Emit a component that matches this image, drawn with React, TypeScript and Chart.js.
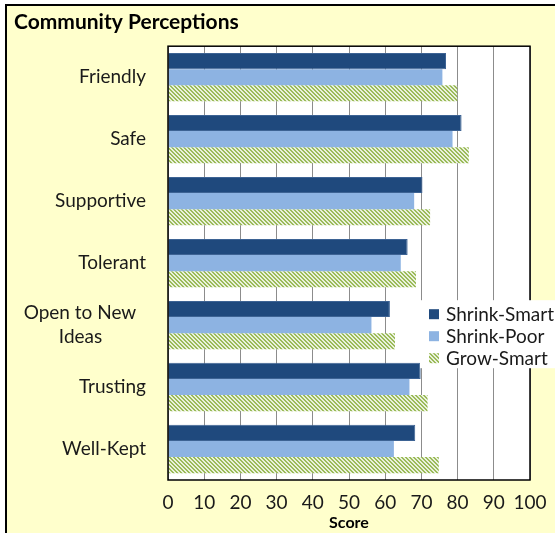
import React, { useEffect, useRef } from "react";
import { Chart, registerables } from "chart.js";
Chart.register(...registerables);

const categories = ["Friendly", "Safe", "Supportive", "Tolerant", "Open to New Ideas", "Trusting", "Well-Kept"];
const seriesNames = ["Shrink-Smart", "Shrink-Poor", "Grow-Smart"];
const shrinkSmart = [76.8, 81.1, 70.3, 66.2, 61.3, 69.8, 68.3];
const shrinkPoor = [75.8, 78.6, 68.0, 64.3, 56.2, 66.7, 62.4];
const growSmart = [79.9, 83.1, 72.4, 68.5, 62.7, 71.7, 74.8];
const xMin = 0;
const xMax = 100;
const xStep = 10;

const FONT = "Lato";

function makeHatch(): CanvasPattern | string {
  const c = document.createElement("canvas");
  c.width = 4;
  c.height = 4;
  const g = c.getContext("2d");
  if (!g) return "#9BBB59";
  g.fillStyle = "#EAF1DD";
  g.fillRect(0, 0, 4, 4);
  g.fillStyle = "#9BBB59";
  for (let y = 0; y < 4; y++) {
    for (let x = 0; x < 4; x++) {
      const d = (((x - y) % 4) + 4) % 4;
      if (d === 0 || d === 1) g.fillRect(x, y, 1, 1);
    }
  }
  const p = g.createPattern(c, "repeat");
  return p || "#9BBB59";
}

function wrapLabel(s: string): string | string[] {
  if (s === "Open to New Ideas") return ["Open to New  ", "Ideas         "];
  return s;
}

const frameBgPlugin = {
  id: "plotFrame",
  beforeDraw(chart: any) {
    const { ctx, chartArea } = chart;
    ctx.save();
    ctx.fillStyle = "#FFFFFF";
    ctx.fillRect(chartArea.left, chartArea.top, chartArea.right - chartArea.left, chartArea.bottom - chartArea.top);
    ctx.restore();
  },
  afterDatasetsDraw(chart: any) {
    const { ctx, chartArea } = chart;
    ctx.save();
    ctx.strokeStyle = "#000000";
    ctx.lineWidth = 1.5;
    ctx.strokeRect(chartArea.left, chartArea.top, chartArea.right - chartArea.left, chartArea.bottom - chartArea.top);
    ctx.restore();
  },
};

const legendPlugin = {
  id: "insetLegend",
  afterDraw(chart: any) {
    const { ctx, chartArea } = chart;
    const x0 = chartArea.right - 110;
    const y0 = chartArea.top + 254;
    ctx.save();
    ctx.fillStyle = "#FFFFFF";
    ctx.fillRect(x0, y0, 140, 68);
    ctx.font = `19px ${FONT}`;
    ctx.textBaseline = "middle";
    ctx.textAlign = "left";
    chart.data.datasets.forEach((ds: any, i: number) => {
      const cy = y0 + 14 + i * 22;
      ctx.fillStyle = ds.backgroundColor;
      ctx.fillRect(x0 + 9, cy - 5, 10, 10);
      ctx.fillStyle = "#1a1a1a";
      ctx.fillText(ds.label, x0 + 26, cy + 1);
    });
    ctx.restore();
  },
};

export default function App() {
  const ref = useRef<HTMLCanvasElement | null>(null);
  useEffect(() => {
    if (!ref.current) return;
    const hatch = makeHatch();
    const chart = new Chart(ref.current, {
      type: "bar",
      data: {
        labels: categories,
        datasets: [
          { label: seriesNames[0], data: shrinkSmart, backgroundColor: "#1F497D", borderColor: "#3D6394", borderWidth: 1 },
          { label: seriesNames[1], data: shrinkPoor, backgroundColor: "#8DB3E2", borderColor: "#9DBEE6", borderWidth: 0 },
          { label: seriesNames[2], data: growSmart, backgroundColor: hatch as any, borderWidth: 0 },
        ],
      },
      options: {
        indexAxis: "y",
        responsive: false,
        animation: false,
        datasets: { bar: { categoryPercentage: 0.78, barPercentage: 1.0 } } as any,
        layout: { padding: { left: 14, right: 25, top: 0, bottom: 0 } },
        plugins: {
          legend: { display: false },
          tooltip: { enabled: false },
          title: {
            display: true,
            text: "Community Perceptions",
            align: "start",
            color: "#000000",
            font: { family: FONT, size: 21, weight: "bold" },
            padding: { top: 10, bottom: 11 },
          },
        },
        scales: {
          x: {
            type: "linear",
            min: xMin,
            max: xMax,
            ticks: {
              stepSize: xStep,
              color: "#1a1a1a",
              padding: 11,
              maxRotation: 0,
              minRotation: 0,
              autoSkip: false,
              font: { family: FONT, size: 19 },
            },
            grid: { color: "#8C8C8C", lineWidth: 1, drawTicks: false },
            border: { display: false },
            title: { display: true, text: "Score", color: "#000000", font: { family: FONT, size: 16, weight: "bold" }, padding: { top: 0, bottom: 1 } },
            afterFit: (s: any) => { s.height = 53; s.paddingLeft = 0; s.paddingRight = 0; },
          },
          y: {
            type: "category",
            ticks: {
              color: "#1a1a1a",
              padding: 22,
              font: { family: FONT, size: 19, lineHeight: 1.25 },
              callback: function (this: any, v: any) { return wrapLabel(this.getLabelForValue(v)); },
            },
            grid: { display: false, drawTicks: false },
            border: { display: false },
            afterFit: (s: any) => { s.width = 154; s.paddingTop = 0; s.paddingBottom = 0; },
          },
        },
      },
      plugins: [frameBgPlugin, legendPlugin],
    });
    return () => chart.destroy();
  }, []);
  return (
    <div style={{ position: "fixed", left: 0, top: 0, width: 555, height: 533, background: "#FFFFFF", overflow: "hidden" }}>
      <div style={{ position: "absolute", left: 5, top: 4, width: 600, height: 600, borderLeft: "2px solid #000", borderTop: "2px solid #000", background: "#FFFFCC" }} />
      <canvas ref={ref} width={555} height={533} style={{ position: "absolute", left: 0, top: 0, width: 555, height: 533 }} />
    </div>
  );
}
